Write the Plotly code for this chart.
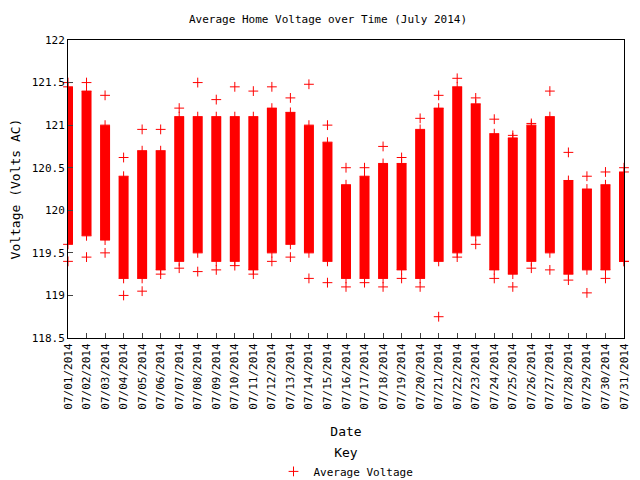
import plotly.graph_objects as go

days = list(range(1, 32))
date_labels = ["07/%02d/2014" % d for d in days]

# dense band of readings per day (low, high)
band_low = [119.6, 119.7, 119.65, 119.2, 119.2, 119.3, 119.4, 119.5, 119.4, 119.4, 119.3,
            119.5, 119.6, 119.5, 119.4, 119.2, 119.2, 119.2, 119.3, 119.2, 119.4, 119.5,
            119.7, 119.3, 119.25, 119.4, 119.5, 119.25, 119.3, 119.3, 119.4]
band_high = [121.45, 121.4, 121.0, 120.4, 120.7, 120.7, 121.1, 121.1, 121.1, 121.1, 121.1,
             121.2, 121.15, 121.0, 120.8, 120.3, 120.4, 120.55, 120.55, 120.95, 121.2, 121.45,
             121.25, 120.9, 120.85, 121.0, 121.1, 120.35, 120.25, 120.3, 120.45]
# extreme single readings per day
day_min = [119.4, 119.45, 119.5, 119.0, 119.05, 119.25, 119.32, 119.28, 119.3, 119.35, 119.25,
           119.4, 119.45, 119.2, 119.15, 119.1, 119.15, 119.1, 119.2, 119.1, 118.75, 119.45,
           119.6, 119.2, 119.1, 119.32, 119.3, 119.18, 119.03, 119.2, 119.4]
day_max = [121.5, 121.5, 121.35, 120.62, 120.95, 120.95, 121.2, 121.5, 121.3, 121.45, 121.4,
           121.45, 121.32, 121.48, 121.0, 120.5, 120.5, 120.75, 120.62, 121.08, 121.35, 121.55,
           121.32, 121.07, 120.88, 121.02, 121.4, 120.68, 120.4, 120.45, 120.5]

bx, by = [], []
for d, lo, hi in zip(days, band_low, band_high):
    bx += [d, d, None]
    by += [lo, hi, None]

px = days * 4
py = band_low + band_high + day_min + day_max

fig = go.Figure()
fig.add_trace(go.Scatter(x=bx, y=by, mode="lines", line=dict(color="red", width=10),
                         showlegend=False, hoverinfo="skip"))
fig.add_trace(go.Scatter(x=px, y=py, mode="markers", name="Average Voltage", cliponaxis=False,
                         marker=dict(symbol="cross-thin", size=7, line=dict(color="red", width=1))))

fig.update_layout(
    width=640, height=480,
    margin=dict(l=60, r=24, t=32, b=150, autoexpand=False),
    paper_bgcolor="white", plot_bgcolor="white",
    font=dict(family="DejaVu Sans Mono", size=11, color="black"),
    title=dict(text="Average Home Voltage over Time (July 2014)", x=0.5, xanchor="center",
               y=0.977, yanchor="middle", font=dict(size=11)),
    xaxis=dict(range=[1, 31], tickvals=days, ticktext=date_labels, tickangle=-90,
               showgrid=False, zeroline=False, showline=True, mirror=True, linecolor="black",
               ticks="inside", ticklen=5, title=dict(text="Date", standoff=18), automargin=False),
    yaxis=dict(range=[118.5, 122], dtick=0.5, showgrid=False, zeroline=False,
               showline=True, mirror=True, linecolor="black", ticks="inside", ticklen=5,
               title=dict(text="Voltage (Volts AC)", standoff=8), automargin=False),
    legend=dict(x=0.5, xanchor="center", y=0.1, yanchor="top", yref="container",
                orientation="h", title=dict(text="Key", side="top center"), font=dict(size=11)),
)
fig.write_html("out.html")
